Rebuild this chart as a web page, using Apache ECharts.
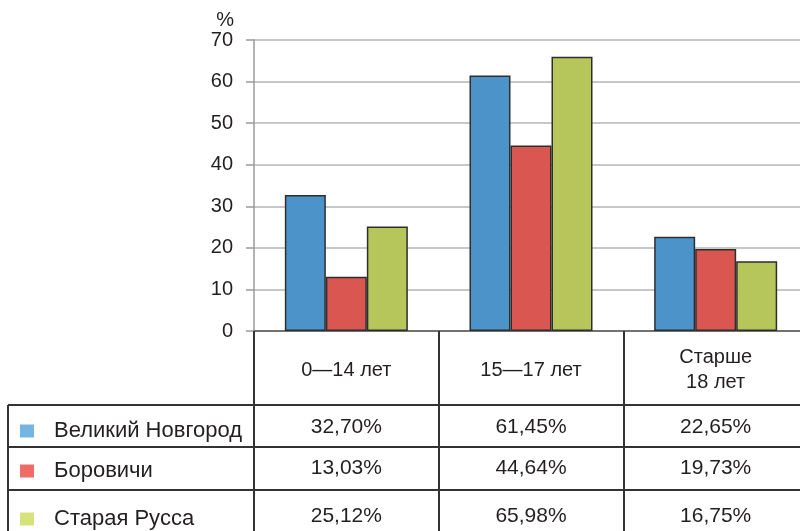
<!DOCTYPE html>
<html>
<head>
<meta charset="utf-8">
<script src="https://cdn.jsdelivr.net/npm/echarts@6/dist/echarts.min.js"></script>
<style>
  html, body { margin: 0; padding: 0; background: #ffffff; }
  #chart { width: 800px; height: 531px; }
</style>
</head>
<body>
<div id="chart"></div>
<script>
// Age groups (table header / category axis)
const categories = ['0—14 лет', '15—17 лет', 'Старше\n18 лет'];

// Share by age group, %
const cities = ['Великий Новгород', 'Боровичи', 'Старая Русса'];
const novgorod = [32.70, 61.45, 22.65];
const borovichi = [13.03, 44.64, 19.73];
const staraya = [25.12, 65.98, 16.75];

// Y axis ticks
const yTicks = { min: 0, max: 70, interval: 10 };

const seriesValues = [novgorod, borovichi, staraya];
const barColors = ['#4b93c8', '#d95651', '#b7c65b'];
const swatchColors = ['#74b5e2', '#f06c66', '#d8e27b'];

const FONT = '"Liberation Sans", Arial, Helvetica, sans-serif';
const TEXT = '#231f20';
const LINE = '#333333';

const fmt = v => v.toFixed(2).replace('.', ',') + '%';

const chart = echarts.init(document.getElementById('chart'), null, { renderer: 'canvas' });

// Grid geometry
const G = { left: 254, top: 40, width: 554, height: 291 };
const tableRows = [427, 468, 516];     // text centre of each data row
const swatchTops = [420, 460, 508];    // legend swatch top per row
const rowLines = [405, 447, 490];      // horizontal table rules
const tableLeft = 8;
const tableBottom = 531;

const valueAxes = seriesValues.map((vals, i) => ({
  type: 'category',
  gridIndex: 0,
  position: 'bottom',
  data: categories,
  axisLine: { show: false },
  axisTick: { show: false },
  splitLine: { show: false },
  axisLabel: {
    interval: 0,
    margin: tableRows[i] - (G.top + G.height),
    verticalAlign: 'middle',
    fontFamily: FONT,
    fontSize: 21,
    color: TEXT,
    formatter: (value, idx) => fmt(vals[idx])
  }
}));

const legends = cities.map((name, i) => ({
  data: [name],
  left: 20,
  top: swatchTops[i],
  padding: 0,
  orient: 'vertical',
  icon: 'rect',
  itemWidth: 14,
  itemHeight: 13,
  selectedMode: false,
  itemStyle: { color: swatchColors[i], borderWidth: 0 },
  textStyle: { fontFamily: FONT, fontSize: 22, color: TEXT, padding: [0, 0, 0, 15] }
}));

const graphics = [];
rowLines.forEach(y => {
  graphics.push({
    type: 'line',
    shape: { x1: tableLeft, y1: y, x2: G.left + G.width, y2: y },
    style: { stroke: LINE, lineWidth: 2 },
    z: 10
  });
});
graphics.push({
  type: 'line',
  shape: { x1: tableLeft, y1: rowLines[0], x2: tableLeft, y2: tableBottom },
  style: { stroke: LINE, lineWidth: 2 },
  z: 10
});

chart.setOption({
  animation: false,
  backgroundColor: '#ffffff',
  grid: {
    left: G.left, top: G.top, width: G.width, height: G.height,
    outerBoundsMode: 'none'
  },
  legend: legends,
  xAxis: [{
    type: 'category',
    gridIndex: 0,
    position: 'bottom',
    data: categories,
    axisLine: { show: true, lineStyle: { color: '#555555', width: 1.5 } },
    axisTick: {
      show: true,
      alignWithLabel: false,
      length: tableBottom - (G.top + G.height),
      lineStyle: { color: LINE, width: 2 }
    },
    axisLabel: {
      interval: 0,
      margin: 39,
      verticalAlign: 'middle',
      fontFamily: FONT,
      fontSize: 20,
      lineHeight: 25,
      color: TEXT,
      align: 'center'
    },
    splitLine: { show: false }
  }].concat(valueAxes),
  yAxis: {
    type: 'value',
    min: yTicks.min,
    max: yTicks.max,
    interval: yTicks.interval,
    name: '%',
    nameLocation: 'end',
    nameGap: 9,
    nameTextStyle: { fontFamily: FONT, fontSize: 20, color: TEXT, align: 'right', padding: [0, 20, 0, 0] },
    axisLine: { show: true, lineStyle: { color: '#9a9a9a', width: 1.5 } },
    axisTick: { show: true, length: 8, lineStyle: { color: '#9a9a9a', width: 1.5 } },
    axisLabel: { margin: 21, fontFamily: FONT, fontSize: 20, color: TEXT },
    splitLine: { show: true, lineStyle: { color: '#b4b4b4', width: 1.5 } }
  },
  series: seriesValues.map((vals, i) => ({
    name: cities[i],
    type: 'bar',
    xAxisIndex: 0,
    data: vals,
    barWidth: 41,
    barGap: '0%',
    itemStyle: { color: barColors[i], borderColor: '#2e2e2e', borderWidth: 1.5 }
  })),
  graphic: graphics
});
</script>
</body>
</html>
